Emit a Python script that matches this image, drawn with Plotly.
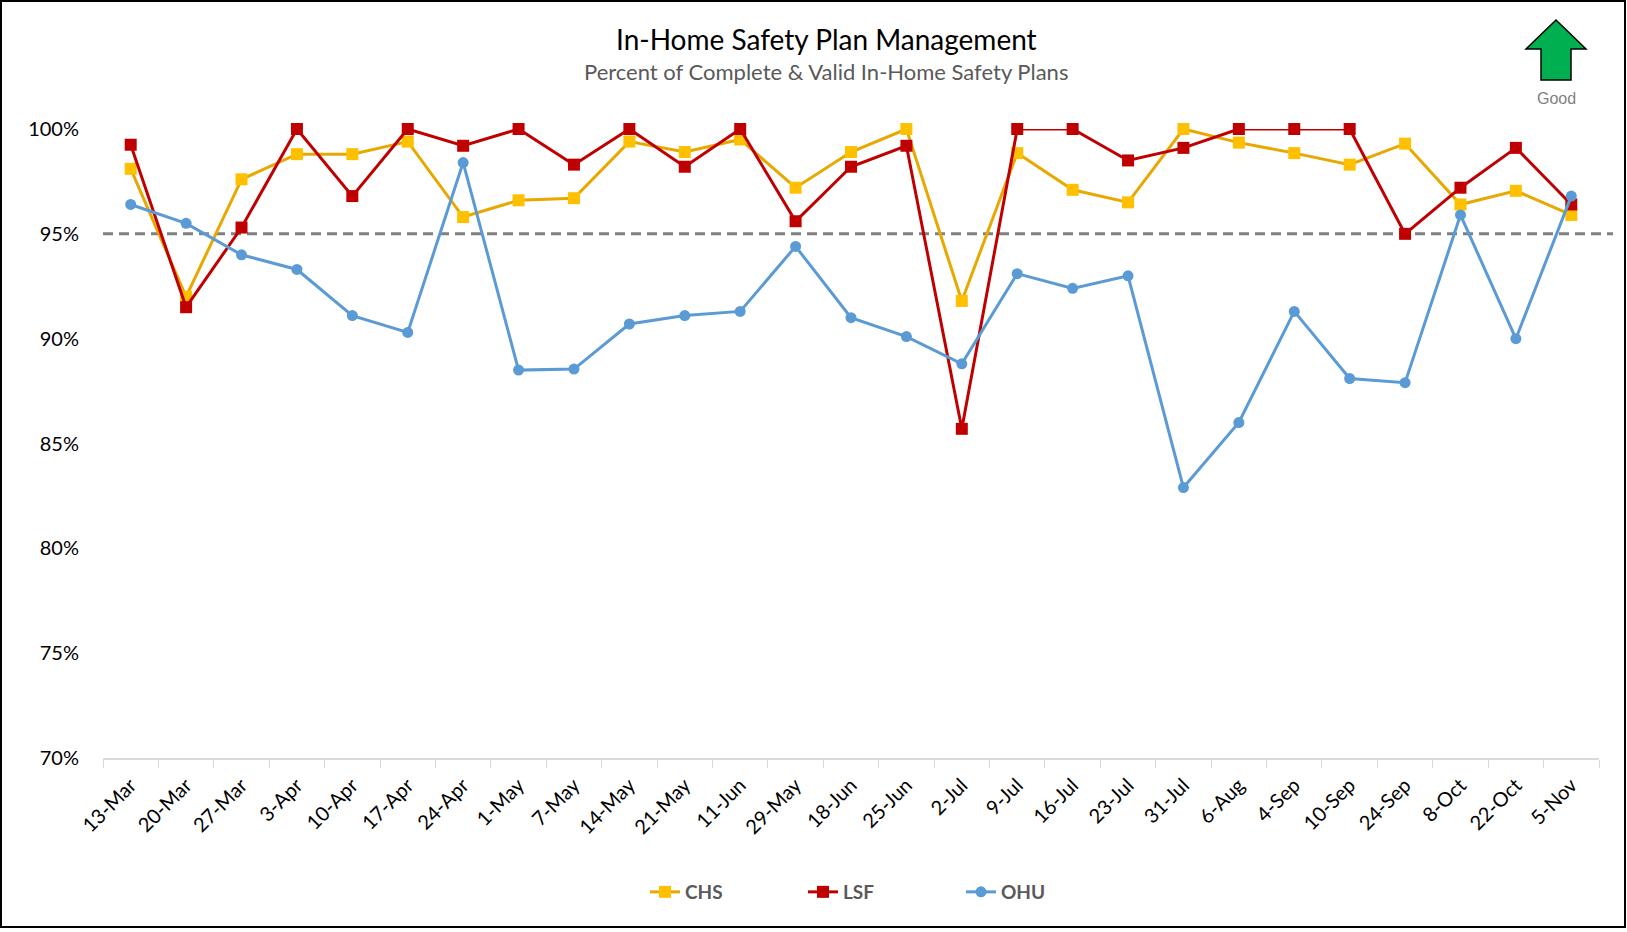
import plotly.graph_objects as go

categories = ["13-Mar", "20-Mar", "27-Mar", "3-Apr", "10-Apr", "17-Apr", "24-Apr", "1-May",
              "7-May", "14-May", "21-May", "11-Jun", "29-May", "18-Jun", "25-Jun", "2-Jul",
              "9-Jul", "16-Jul", "23-Jul", "31-Jul", "6-Aug", "4-Sep", "10-Sep", "24-Sep",
              "8-Oct", "22-Oct", "5-Nov"]
chs = [98.1, 92.0, 97.6, 98.8, 98.8, 99.4, 95.8, 96.6, 96.7, 99.4, 98.9, 99.5, 97.2, 98.9,
       100.0, 91.8, 98.85, 97.1, 96.5, 100.0, 99.35, 98.85, 98.3, 99.3, 96.4, 97.05, 95.9]
lsf = [99.25, 91.5, 95.3, 100.0, 96.8, 100.0, 99.2, 100.0, 98.3, 100.0, 98.2, 100.0, 95.6, 98.2,
       99.2, 85.7, 100.0, 100.0, 98.5, 99.1, 100.0, 100.0, 100.0, 95.0, 97.2, 99.1, 96.4]
ohu = [96.4, 95.5, 94.0, 93.3, 91.1, 90.3, 98.4, 88.5, 88.55, 90.7, 91.1, 91.3, 94.4, 91.0,
       90.1, 88.8, 93.1, 92.4, 93.0, 82.9, 86.0, 91.3, 88.1, 87.9, 95.9, 90.0, 96.8]
target = 95.0
y_ticks = [70, 75, 80, 85, 90, 95, 100]

W, H = 1627, 932
ML, MR, MT, MB = 103, 28, 129, 174
PW, PH = W - ML - MR, H - MT - MB

def px(x):
    return (x - ML) / PW

def py(y):
    return (H - MB - y) / PH

font = "Lato, 'Open Sans', sans-serif"

fig = go.Figure()
fig.add_trace(go.Scatter(x=categories, y=[v / 100 for v in chs], name="CHS", mode="lines+markers",
                         line=dict(color="#e8a800", width=3),
                         marker=dict(symbol="square", size=12, color="#ffc000"), cliponaxis=False))
fig.add_trace(go.Scatter(x=categories, y=[v / 100 for v in lsf], name="LSF", mode="lines+markers",
                         line=dict(color="#c00000", width=3),
                         marker=dict(symbol="square", size=12, color="#c00000"), cliponaxis=False))
fig.add_trace(go.Scatter(x=categories, y=[v / 100 for v in ohu], name="OHU", mode="lines+markers",
                         line=dict(color="#5b9bd5", width=3),
                         marker=dict(symbol="circle", size=11, color="#5b9bd5"), cliponaxis=False))

shapes = [
    dict(type="line", xref="paper", yref="y", x0=0, x1=px(1613), y0=target / 100, y1=target / 100,
         line=dict(color="#808080", width=3, dash="10px,6px"), layer="below"),
    dict(type="rect", xref="paper", yref="paper", x0=px(1), x1=px(1625), y0=py(927), y1=py(1),
         line=dict(color="#000000", width=2)),
    dict(type="path", xref="paper", yref="paper", xsizemode="pixel", ysizemode="pixel",
         xanchor=px(1556), yanchor=py(80),
         path="M -15 0 L 15 0 L 15 31 L 30 31 L 0 60 L -30 31 L -15 31 Z",
         fillcolor="#00b050", line=dict(color="#000000", width=1.5)),
]

annotations = [
    dict(text="In-Home Safety Plan Management", xref="paper", yref="paper", x=px(826), y=py(39),
         showarrow=False, font=dict(family=font, size=28, color="#000000"), xanchor="center", yanchor="middle"),
    dict(text="Percent of Complete & Valid In-Home Safety Plans", xref="paper", yref="paper", x=px(826), y=py(72),
         showarrow=False, font=dict(family=font, size=22, color="#595959"), xanchor="center", yanchor="middle"),
    dict(text="Good", xref="paper", yref="paper", x=px(1556), y=py(98),
         showarrow=False, font=dict(family="'Liberation Sans', Arial, sans-serif", size=16, color="#7f7f7f"),
         xanchor="center", yanchor="middle"),
]

fig.update_layout(
    width=W, height=H,
    margin=dict(l=ML, r=MR, t=MT, b=MB),
    paper_bgcolor="white", plot_bgcolor="white",
    showlegend=True,
    legend=dict(orientation="h", x=px(645), xanchor="left", y=py(892), yanchor="middle",
                font=dict(family=font, size=19, color="#595959", weight="bold"),
                entrywidth=113, entrywidthmode="pixels",
                traceorder="normal"),
    shapes=shapes, annotations=annotations,
    xaxis=dict(type="category", range=[-0.5, len(categories) - 0.5], tickangle=-45,
               tickson="boundaries", ticks="outside", ticklen=8, tickcolor="#d9d9d9",
               showline=True, linecolor="#d9d9d9", linewidth=1.5, showgrid=False,
               ticklabelstandoff=6,
               tickfont=dict(family=font, size=20, color="#000000")),
    yaxis=dict(range=[0.70, 1.0], tickvals=[v / 100 for v in y_ticks], tickformat=".0%",
               showgrid=False, zeroline=False, showline=False, ticklabelstandoff=23,
               tickfont=dict(family=font, size=20, color="#000000")),
)

fig.write_html("out.html", config={"displayModeBar": False},
               post_script="document.body.style.margin='0';")
